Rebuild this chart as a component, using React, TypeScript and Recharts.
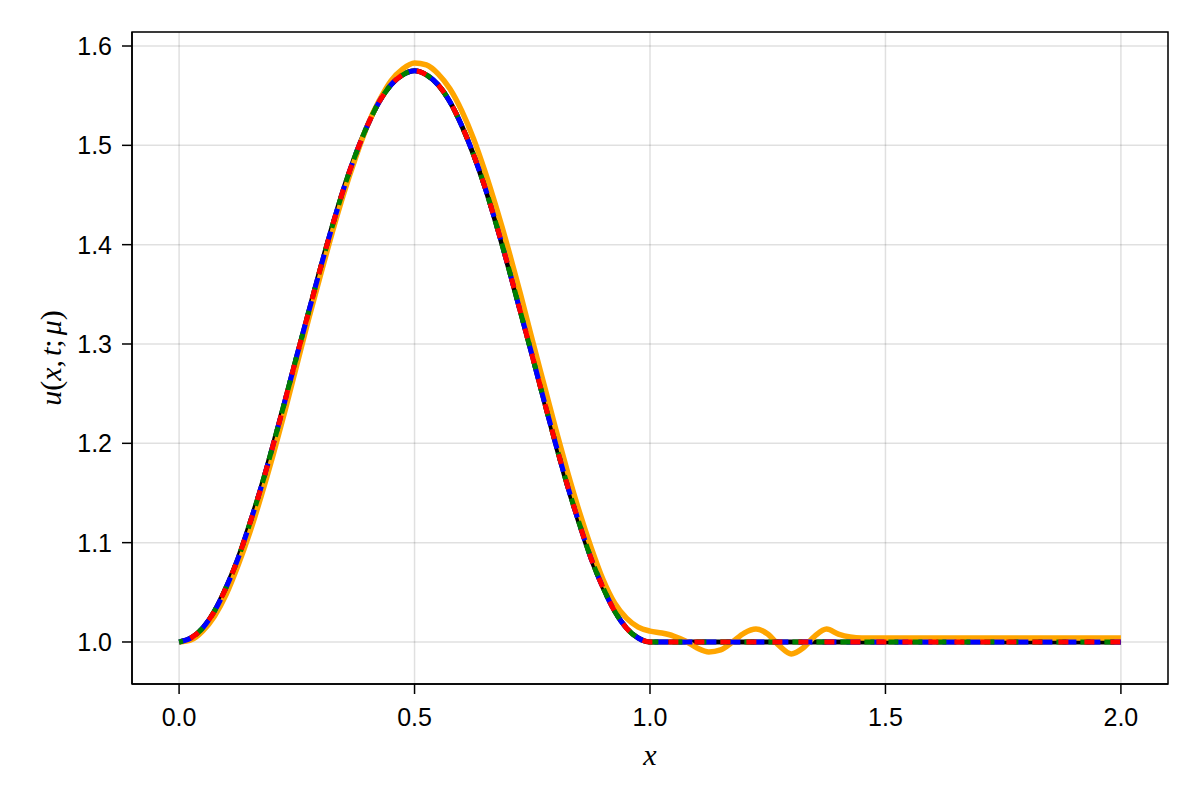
import React from 'react';
import { LineChart, Line, XAxis, YAxis, CartesianGrid, ReferenceArea, Label } from 'recharts';

// x positions for the reference solution and the three reduced-order curves
const xFine = [
  0, 0.025, 0.05, 0.075, 0.1, 0.125, 0.15, 0.175, 0.2, 0.225, 0.25, 0.275, 0.3, 0.325, 0.35, 0.375,
  0.4, 0.425, 0.45, 0.475, 0.5, 0.525, 0.55, 0.575, 0.6, 0.625, 0.65, 0.675, 0.7, 0.725, 0.75, 0.775,
  0.8, 0.825, 0.85, 0.875, 0.9, 0.925, 0.95, 0.975, 1.0, 1.1, 1.2, 1.3, 1.4, 1.5, 1.6, 1.7, 1.8, 1.9, 2.0,
];

const uBlack = [
  1.0, 1.004, 1.014, 1.031, 1.055, 1.084, 1.119, 1.157, 1.199, 1.243, 1.288, 1.332, 1.376, 1.418, 1.457, 1.491,
  1.52, 1.544, 1.561, 1.571, 1.575, 1.571, 1.561, 1.544, 1.52, 1.491, 1.457, 1.418, 1.376, 1.332, 1.288, 1.243,
  1.199, 1.157, 1.119, 1.084, 1.055, 1.031, 1.014, 1.004, 1.0, 1.0, 1.0, 1.0, 1.0, 1.0, 1.0, 1.0, 1.0, 1.0, 1.0,
];

const uBlue = [
  1.0, 1.004, 1.014, 1.031, 1.055, 1.084, 1.119, 1.157, 1.199, 1.243, 1.288, 1.332, 1.376, 1.418, 1.457, 1.491,
  1.52, 1.544, 1.561, 1.571, 1.575, 1.571, 1.561, 1.544, 1.52, 1.491, 1.457, 1.418, 1.376, 1.332, 1.288, 1.243,
  1.199, 1.157, 1.119, 1.084, 1.055, 1.031, 1.014, 1.004, 1.0, 1.0, 1.0, 1.0, 1.0, 1.0, 1.0, 1.0, 1.0, 1.0, 1.0,
];

const uGreen = [
  1.0, 1.004, 1.014, 1.031, 1.055, 1.084, 1.119, 1.157, 1.199, 1.243, 1.288, 1.332, 1.376, 1.418, 1.457, 1.491,
  1.52, 1.544, 1.561, 1.571, 1.575, 1.571, 1.561, 1.544, 1.52, 1.491, 1.457, 1.418, 1.376, 1.332, 1.288, 1.243,
  1.199, 1.157, 1.119, 1.084, 1.055, 1.031, 1.014, 1.004, 1.0, 1.0, 1.0, 1.0, 1.0, 1.0, 1.0, 1.0, 1.0, 1.0, 1.0,
];

const uRed = [
  1.0, 1.004, 1.014, 1.031, 1.055, 1.084, 1.119, 1.157, 1.199, 1.243, 1.288, 1.332, 1.376, 1.418, 1.457, 1.491,
  1.52, 1.544, 1.561, 1.571, 1.575, 1.571, 1.561, 1.544, 1.52, 1.491, 1.457, 1.418, 1.376, 1.332, 1.288, 1.243,
  1.199, 1.157, 1.119, 1.084, 1.055, 1.031, 1.014, 1.004, 1.0, 1.0, 1.0, 1.0, 1.0, 1.0, 1.0, 1.0, 1.0, 1.0, 1.0,
];

// orange curve (oscillating tail)
const xOrange = [
  0, 0.025, 0.05, 0.075, 0.1, 0.125, 0.15, 0.175, 0.2, 0.225, 0.25, 0.275, 0.3, 0.325, 0.35, 0.375,
  0.4, 0.425, 0.45, 0.475, 0.5, 0.525, 0.55, 0.575, 0.6, 0.625, 0.65, 0.675, 0.7, 0.725, 0.75, 0.775,
  0.8, 0.825, 0.85, 0.875, 0.9, 0.925, 0.95, 0.975, 1.0, 1.025, 1.05, 1.075, 1.1, 1.125, 1.15, 1.175,
  1.2, 1.225, 1.25, 1.275, 1.3, 1.325, 1.35, 1.375, 1.4, 1.425, 1.45, 1.5, 1.6, 1.7, 1.8, 1.9, 2.0,
];

const uOrange = [
  1.0, 1.002, 1.011, 1.026, 1.048, 1.077, 1.11, 1.148, 1.189, 1.233, 1.279, 1.325, 1.369, 1.412, 1.452, 1.488,
  1.52, 1.545, 1.565, 1.577, 1.583, 1.581, 1.572, 1.557, 1.535, 1.507, 1.473, 1.435, 1.394, 1.35, 1.304, 1.259,
  1.214, 1.171, 1.131, 1.095, 1.063, 1.039, 1.024, 1.015, 1.011, 1.009, 1.006, 1.001, 0.994, 0.99, 0.992, 1.0,
  1.009, 1.013, 1.008, 0.996, 0.988, 0.994, 1.006, 1.013, 1.008, 1.005, 1.004, 1.004, 1.004, 1.004, 1.004, 1.004, 1.004,
];

const xTicks = [0, 0.5, 1.0, 1.5, 2.0];
const yTicks = [1.0, 1.1, 1.2, 1.3, 1.4, 1.5, 1.6];
const xDomain: [number, number] = [-0.1, 2.1];
const yDomain: [number, number] = [0.9577, 1.6141];

const toRows = (xs: number[], ys: number[]) => xs.map((x, i) => ({ x, y: ys[i] }));

const blackData = toRows(xFine, uBlack);
const blueData = toRows(xFine, uBlue);
const greenData = toRows(xFine, uGreen);
const redData = toRows(xFine, uRed);
const orangeData = toRows(xOrange, uOrange);

const tickFont = { fontFamily: '"Liberation Sans", Arial, sans-serif', fontSize: 25, fill: '#000' };
const mathFont = '"Liberation Serif", "DejaVu Serif", serif';

const XLabelContent = (props: any) => {
  const vb = props.viewBox || {};
  const cx = vb.x + vb.width / 2;
  return (
    <text x={cx} y={765} textAnchor="middle" fontFamily={mathFont} fontStyle="italic" fontSize={30} fill="#000">
      x
    </text>
  );
};

const YLabelContent = (props: any) => {
  const vb = props.viewBox || {};
  const cy = vb.y + vb.height / 2;
  const cx = 50;
  return (
    <text
      x={cx}
      y={cy}
      transform={`rotate(-90 ${cx} ${cy})`}
      textAnchor="middle"
      dominantBaseline="central"
      fontFamily={mathFont}
      fontSize={30}
      fill="#000"
    >
      <tspan fontStyle="italic">u</tspan>
      <tspan>(</tspan>
      <tspan fontStyle="italic">x</tspan>
      <tspan>,</tspan>
      <tspan fontStyle="italic" dx={4}>t</tspan>
      <tspan>;</tspan>
      <tspan fontStyle="italic" dx={4}>μ</tspan>
      <tspan>)</tspan>
    </text>
  );
};

export default function App() {
  return (
    <div style={{ position: 'absolute', left: 0, top: 0, width: 1200, height: 800, background: '#fff' }}>
      <LineChart width={1200} height={800} margin={{ top: 32, right: 32, left: 0, bottom: 0 }}>
        <CartesianGrid stroke="#000" strokeOpacity={0.12} strokeWidth={1.5} />
        <XAxis
          type="number"
          dataKey="x"
          domain={xDomain}
          ticks={xTicks}
          allowDataOverflow
          tickFormatter={(v: number) => v.toFixed(1)}
          height={116}
          tickSize={10}
          tickMargin={14}
          tick={tickFont}
          axisLine={{ stroke: '#000', strokeWidth: 1.5 }}
          tickLine={{ stroke: '#000', strokeWidth: 1.5 }}
        >
          <Label content={XLabelContent} />
        </XAxis>
        <YAxis
          type="number"
          dataKey="y"
          domain={yDomain}
          ticks={yTicks}
          allowDataOverflow
          tickFormatter={(v: number) => v.toFixed(1)}
          width={132}
          tickSize={10}
          tickMargin={10}
          tick={tickFont}
          axisLine={{ stroke: '#000', strokeWidth: 1.5 }}
          tickLine={{ stroke: '#000', strokeWidth: 1.5 }}
        >
          <Label content={YLabelContent} />
        </YAxis>
        <ReferenceArea
          x1={xDomain[0]}
          x2={xDomain[1]}
          y1={yDomain[0]}
          y2={yDomain[1]}
          fill="none"
          stroke="#000"
          strokeWidth={1.5}
          ifOverflow="visible"
        />
        <Line data={blackData} dataKey="y" type="monotone" stroke="#000" strokeWidth={5} dot={false} activeDot={false} isAnimationActive={false} />
        <Line data={orangeData} dataKey="y" type="monotone" stroke="#FFA500" strokeWidth={5.5} dot={false} activeDot={false} isAnimationActive={false} />
        <Line data={blueData} dataKey="y" type="monotone" stroke="#0000FF" strokeWidth={5} strokeDasharray="14 10" dot={false} activeDot={false} isAnimationActive={false} />
        <Line data={greenData} dataKey="y" type="monotone" stroke="#008000" strokeWidth={5} strokeDasharray="10 14" strokeDashoffset={6} dot={false} activeDot={false} isAnimationActive={false} />
        <Line data={redData} dataKey="y" type="monotone" stroke="#FF0000" strokeWidth={5} strokeDasharray="10 16" strokeDashoffset={14} dot={false} activeDot={false} isAnimationActive={false} />
      </LineChart>
    </div>
  );
}
